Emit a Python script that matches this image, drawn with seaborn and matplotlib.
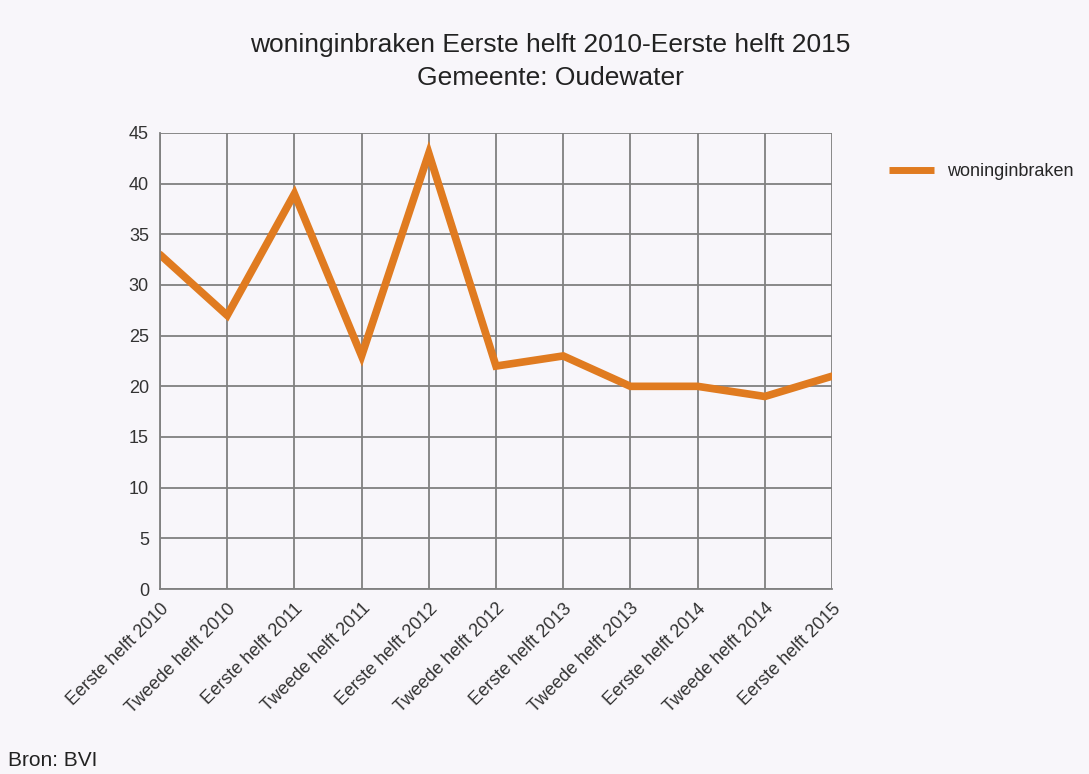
import matplotlib
matplotlib.use("Agg")
import matplotlib.pyplot as plt
import seaborn as sns
import pandas as pd

periods = ["Eerste helft 2010", "Tweede helft 2010", "Eerste helft 2011", "Tweede helft 2011",
           "Eerste helft 2012", "Tweede helft 2012", "Eerste helft 2013", "Tweede helft 2013",
           "Eerste helft 2014", "Tweede helft 2014", "Eerste helft 2015"]
woninginbraken = [33, 27, 39, 23, 43, 22, 23, 20, 20, 19, 21]
yticks = [0, 5, 10, 15, 20, 25, 30, 35, 40, 45]

sns.set_theme(style="white")
plt.rcParams['font.family'] = ['Liberation Sans', 'DejaVu Sans']

bg = "#f8f6fa"
grid = "#808080"
orange = "#e07b20"

df = pd.DataFrame({"x": range(len(periods)), "y": woninginbraken})

fig = plt.figure(figsize=(10.89, 7.74), dpi=100, facecolor=bg)
ax = fig.add_axes([160/1089, 1-589/774, (832-160)/1089, (589-133)/774])
ax.set_facecolor(bg)

sns.lineplot(data=df, x="x", y="y", ax=ax, color=orange, linewidth=5.5,
             label="woninginbraken", legend=False, solid_joinstyle="miter")

ax.set_xlim(0, len(periods)-1)
ax.set_ylim(0, 45)
ax.set_yticks(yticks)
ax.set_yticklabels([str(v) for v in yticks], fontsize=13, color="#333333")
ax.set_xticks(range(len(periods)))
ax.set_xticklabels(periods, rotation=45, ha="right", rotation_mode="anchor",
                   fontsize=13, color="#333333")
ax.grid(True, color=grid, linewidth=1.3)
ax.set_axisbelow(True)
for s in ["top", "right"]:
    ax.spines[s].set_visible(False)
for s in ["left", "bottom"]:
    ax.spines[s].set_color(grid)
    ax.spines[s].set_linewidth(1.3)
ax.tick_params(axis="both", which="both", length=6, width=1.0, color=grid, direction="out", pad=2)
ax.set_xlabel("")
ax.set_ylabel("")

fig.text(550/1089, 1-45/774, "woninginbraken Eerste helft 2010-Eerste helft 2015",
         ha="center", va="center", fontsize=19, color="#222222")
fig.text(550/1089, 1-78/774, "Gemeente: Oudewater",
         ha="center", va="center", fontsize=19, color="#222222")

handles, labels = ax.get_legend_handles_labels()
leg = fig.legend(handles, labels, loc="upper left", bbox_to_anchor=(882/1089, 1-156/774),
                 frameon=False, fontsize=13, handlelength=2.5, handletextpad=0.7, borderaxespad=0)
for h in leg.get_lines():
    h.set_solid_capstyle("butt")
    h.set_linewidth(5)

fig.text(8/1089, 1-760/774, "Bron: BVI", ha="left", va="center", fontsize=15, color="#222222")

fig.savefig("out.png", dpi=100, facecolor=bg)
